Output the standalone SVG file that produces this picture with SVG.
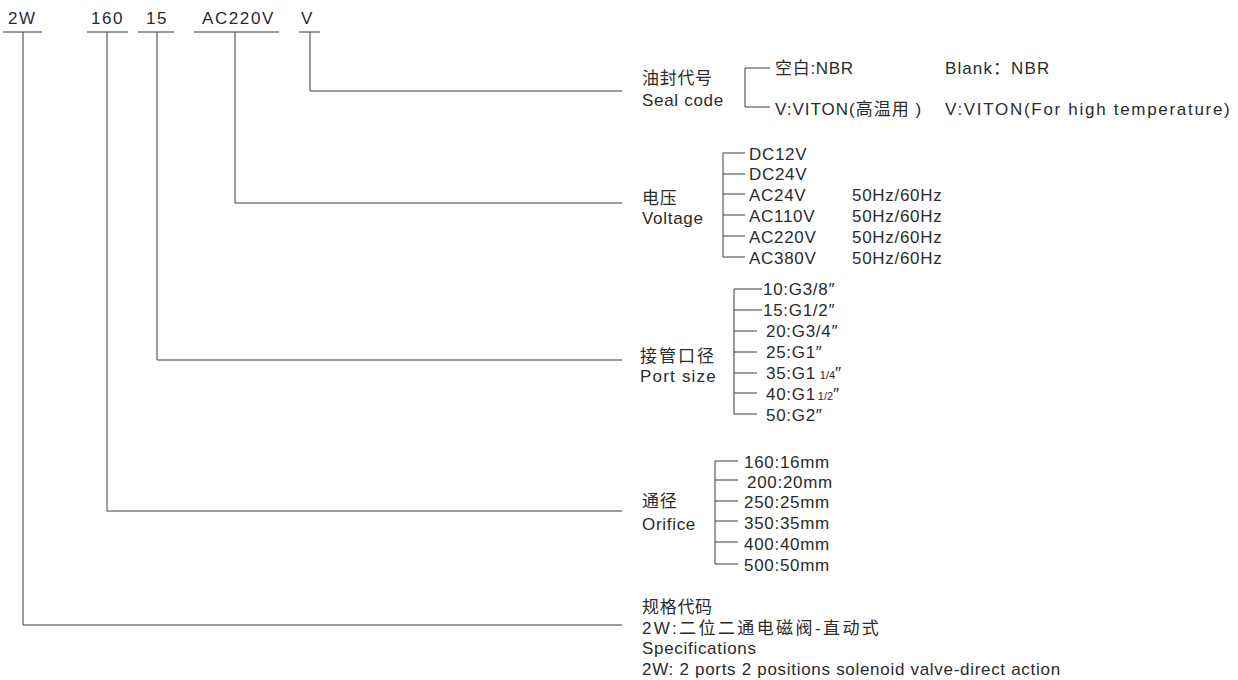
<svg xmlns="http://www.w3.org/2000/svg" width="1238" height="680" viewBox="0 0 1238 680">
<style>
text{font-family:"Liberation Sans","Noto Sans CJK SC",sans-serif;font-size:17px;fill:#2b2b2b;letter-spacing:0.7px}
.top{letter-spacing:1.6px}
.ln{stroke:#3a3a3a;stroke-width:1;fill:none}
.sm{font-size:11px;letter-spacing:0}
</style>
<rect width="1238" height="680" fill="#fff"/>
<g id="connectors">
<path class="ln" d="M3 32H42M23 32V625H622"/>
<path class="ln" d="M87 32H128M107 32V511H622"/>
<path class="ln" d="M138 32H174M157 32V360H622"/>
<path class="ln" d="M194 32H279M235 32V203H622"/>
<path class="ln" d="M299 32H320M310 32V91H622"/>
</g>
<g id="codes">
<text class="top" x="8" y="24">2W</text>
<text class="top" x="91" y="24">160</text>
<text class="top" x="146" y="24">15</text>
<text class="top" x="202" y="24">AC220V</text>
<text class="top" x="301" y="24">V</text>
</g>
<g id="seal">
<text x="642" y="84">油封代号</text>
<text x="642" y="106">Seal code</text>
<path class="ln" d="M770 68H745V107H770"/>
<text x="775" y="74">空白:NBR</text>
<text x="775" y="115" style="letter-spacing:1px">V:VITON(高温用 )</text>
<text x="945" y="74" style="letter-spacing:1.1px">Blank：NBR</text>
<text x="945" y="115" style="letter-spacing:1.7px">V:VITON(For high temperature)</text>
</g>
<g id="voltage">
<text x="642" y="204">电压</text>
<text x="642" y="224">Voltage</text>
<path class="ln" d="M745 153H723V257H745M723 174H745M723 194H745M723 215H745M723 236H745"/>
<text x="749" y="160">DC12V</text>
<text x="749" y="180">DC24V</text>
<text x="749" y="201">AC24V</text>
<text x="749" y="222">AC110V</text>
<text x="749" y="243">AC220V</text>
<text x="749" y="264">AC380V</text>
<text x="852" y="201">50Hz/60Hz</text>
<text x="852" y="222">50Hz/60Hz</text>
<text x="852" y="243">50Hz/60Hz</text>
<text x="852" y="264">50Hz/60Hz</text>
</g>
<g id="port">
<text x="640" y="362" style="letter-spacing:2px">接管口径</text>
<text x="640" y="382" style="letter-spacing:1.2px">Port  size</text>
<path class="ln" d="M762 289H734V414H757M734 310H762M734 331H757M734 352H757M734 373H757M734 393H757"/>
<text x="763" y="295">10:G3/8″</text>
<text x="763" y="316">15:G1/2″</text>
<text x="766" y="337">20:G3/4″</text>
<text x="766" y="358">25:G1″</text>
<text x="766" y="379">35:G1<tspan class="sm" dx="4">1/4</tspan>″</text>
<text x="766" y="400">40:G1<tspan class="sm" dx="2">1/2</tspan>″</text>
<text x="766" y="421">50:G2″</text>
</g>
<g id="orifice">
<text x="642" y="507">通径</text>
<text x="642" y="530">Orifice</text>
<path class="ln" d="M738 461H715V564H738M715 480H738M715 501H738M715 521H738M715 542H738"/>
<text x="744" y="468">160:16mm</text>
<text x="747" y="488">200:20mm</text>
<text x="744" y="508">250:25mm</text>
<text x="744" y="529">350:35mm</text>
<text x="744" y="550">400:40mm</text>
<text x="744" y="571">500:50mm</text>
</g>
<g id="spec">
<text x="642" y="613">规格代码</text>
<text x="642" y="634" style="letter-spacing:2.4px">2W:二位二通电磁阀-直动式</text>
<text x="642" y="654">Specifications</text>
<text x="642" y="675">2W: 2 ports 2 positions solenoid valve-direct action</text>
</g>
</svg>
